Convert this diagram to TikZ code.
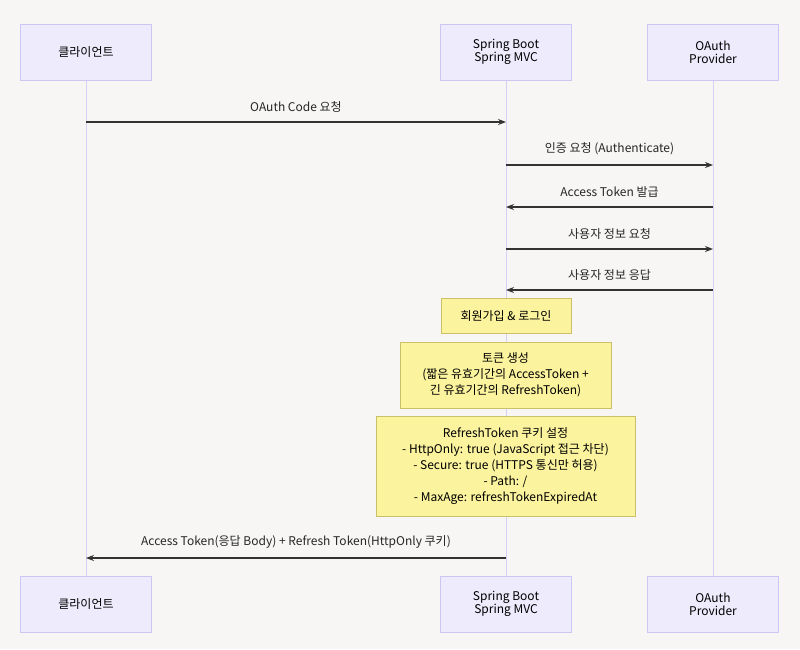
\documentclass[tikz,border=0pt]{standalone}
\usepackage{fontspec}
\setmainfont{Noto Sans CJK KR}
\usetikzlibrary{arrows.meta}
\definecolor{bg}{HTML}{F7F6F5}
\definecolor{actfill}{HTML}{EDEBFC}
\definecolor{actdraw}{HTML}{CBC6F2}
\definecolor{notefill}{HTML}{FBF39E}
\definecolor{notedraw}{HTML}{C9C067}
\definecolor{lifeline}{HTML}{D5D0F5}
\tikzset{
  actor/.style={draw=actdraw,fill=actfill,minimum width=131pt,minimum height=56pt,font=\fontsize{12}{13}\selectfont,align=center,line width=0.7pt},
  note/.style={draw=notedraw,fill=notefill,font=\fontsize{12}{16}\selectfont,align=center,line width=0.7pt,inner sep=0pt},
  msg/.style={-{Stealth[length=8pt,width=6pt]},line width=1.1pt,draw=black!80},
  lbl/.style={font=\fontsize{12}{13}\selectfont,text=black!85}
}
\begin{document}
\begin{tikzpicture}[x=1pt,y=-1pt]
\useasboundingbox[fill=bg] (0,0) rectangle (800,649);
\draw[lifeline,line width=1pt] (86,80) -- (86,576) (506,80) -- (506,576) (713,80) -- (713,576);
\node[actor] (c1) at (86,52) {클라이언트};
\node[actor] (s1) at (506,52) {Spring Boot\\Spring MVC};
\node[actor] (o1) at (713,52) {OAuth\\Provider};
\node[actor] (c2) at (86,604) {클라이언트};
\node[actor] (s2) at (506,604) {Spring Boot\\Spring MVC};
\node[actor] (o2) at (713,604) {OAuth\\Provider};
\coordinate (ca) at (86,122); \coordinate (sa) at (506,122);
\draw[msg] (ca) -- (sa) node[lbl,midway,above=6pt] {OAuth Code 요청};
\coordinate (sb) at (506,165); \coordinate (ob) at (713,165);
\draw[msg] (sb) -- (ob) node[lbl,midway,above=6pt] {인증 요청 (Authenticate)};
\coordinate (oc) at (713,207); \coordinate (sc) at (506,207);
\draw[msg] (oc) -- (sc) node[lbl,midway,above=6pt] {Access Token 발급};
\coordinate (sd) at (506,249); \coordinate (od) at (713,249);
\draw[msg] (sd) -- (od) node[lbl,midway,above=6pt] {사용자 정보 요청};
\coordinate (oe) at (713,290); \coordinate (se) at (506,290);
\draw[msg] (oe) -- (se) node[lbl,midway,above=6pt] {사용자 정보 응답};
\node[note,minimum width=130pt,minimum height=35pt] (n1) at (506,315.5) {회원가입 \& 로그인};
\node[note,minimum width=211pt,minimum height=66pt] (n2) at (505.5,375) {토큰 생성\\(짧은 유효기간의 AccessToken +\\긴 유효기간의 RefreshToken)};
\node[note,minimum width=259pt,minimum height=100pt] (n3) at (505.5,466) {RefreshToken 쿠키 설정\\- HttpOnly: true (JavaScript 접근 차단)\\- Secure: true (HTTPS 통신만 허용)\\- Path: /\\- MaxAge: refreshTokenExpiredAt};
\coordinate (sf) at (506,558); \coordinate (cf) at (86,558);
\draw[msg] (sf) -- (cf) node[lbl,midway,above=6pt] {Access Token(응답 Body) + Refresh Token(HttpOnly 쿠키)};
\end{tikzpicture}
\end{document}
